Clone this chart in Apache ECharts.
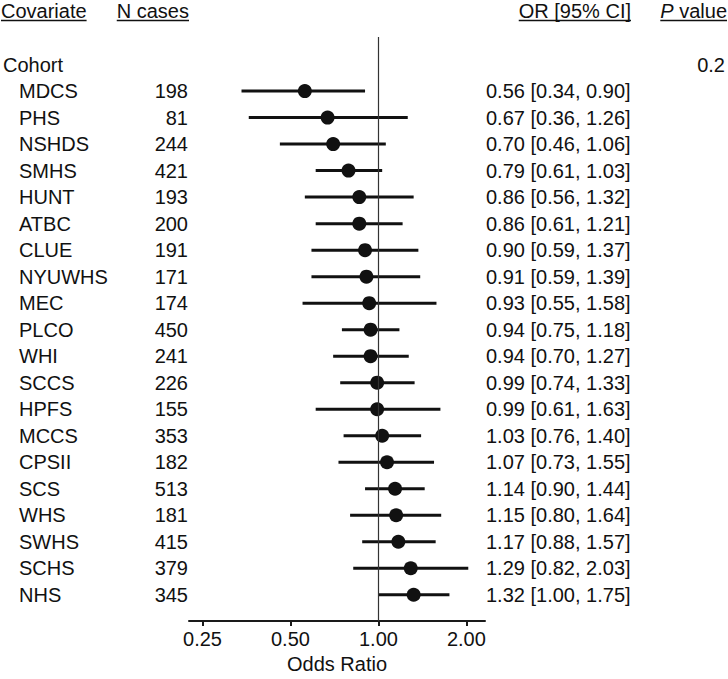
<!DOCTYPE html>
<html>
<head>
<meta charset="utf-8">
<script src="https://cdn.jsdelivr.net/npm/echarts@6/dist/echarts.min.js"></script>
<style>html,body{margin:0;padding:0;background:#fff}#c{width:728px;height:679px}</style>
</head>
<body>
<div id="c"></div>
<script>
const groupLabel = 'Cohort';
const groupP = '0.2';
const cohorts = ['MDCS','PHS','NSHDS','SMHS','HUNT','ATBC','CLUE','NYUWHS','MEC','PLCO','WHI','SCCS','HPFS','MCCS','CPSII','SCS','WHS','SWHS','SCHS','NHS'];
const nCases = [198,81,244,421,193,200,191,171,174,450,241,226,155,353,182,513,181,415,379,345];
const orVal = [0.56,0.67,0.70,0.79,0.86,0.86,0.90,0.91,0.93,0.94,0.94,0.99,0.99,1.03,1.07,1.14,1.15,1.17,1.29,1.32];
const ciLow = [0.34,0.36,0.46,0.61,0.56,0.61,0.59,0.59,0.55,0.75,0.70,0.74,0.61,0.76,0.73,0.90,0.80,0.88,0.82,1.00];
const ciHigh = [0.90,1.26,1.06,1.03,1.32,1.21,1.37,1.39,1.58,1.18,1.27,1.33,1.63,1.40,1.55,1.44,1.64,1.57,2.03,1.75];
const xTicks = [0.25,0.5,1,2];
const headers = ['Covariate','N cases','OR [95% CI]','P value'];

const FONT = 'Liberation Sans';
const FS = 20;
const INK = '#111';

const rowIdx = cohorts.map((_, i) => i + 1);
const yMin = -1.04, yMax = 20.99;

function labelAxis(values, fmt, position, align, margin) {
  return {
    type: 'value', inverse: true, min: yMin, max: yMax, position: position, offset: 0,
    axisLine: {show: false}, axisTick: {show: false}, splitLine: {show: false},
    axisLabel: {customValues: values, formatter: fmt, align: align, margin: margin,
      fontSize: FS, color: INK, fontFamily: FONT}
  };
}

const chart = echarts.init(document.getElementById('c'), null, {renderer: 'svg'});

const cv = document.createElement('canvas').getContext('2d');
function tw(t, italic) { cv.font = (italic ? 'italic ' : '') + FS + 'px "' + FONT + '"'; return cv.measureText(t).width; }

const hy = 10.5, uy = 20.5;
const gfx = [];
function header(text, x, align) {
  const w = tw(text);
  const x0 = align === 'left' ? x : x - w;
  gfx.push({type: 'text', x: x, y: hy, style: {text: text, fill: INK, font: FS + 'px "' + FONT + '"', textAlign: align, textVerticalAlign: 'middle'}});
  gfx.push({type: 'line', shape: {x1: x0, y1: uy, x2: x0 + w, y2: uy}, style: {stroke: INK, lineWidth: 1.6}});
}
header(headers[0], 1, 'left');
header(headers[1], 189, 'right');
header(headers[2], 631, 'right');
(function () {
  const parts = headers[3].split(' ');
  const rest = ' ' + parts.slice(1).join(' ');
  const wP = tw(parts[0], true), wR = tw(rest);
  const right = 727, x0 = right - wP - wR;
  gfx.push({type: 'text', x: x0, y: hy, style: {text: parts[0], fill: INK, font: 'italic ' + FS + 'px "' + FONT + '"', textAlign: 'left', textVerticalAlign: 'middle'}});
  gfx.push({type: 'text', x: x0 + wP, y: hy, style: {text: rest, fill: INK, font: FS + 'px "' + FONT + '"', textAlign: 'left', textVerticalAlign: 'middle'}});
  gfx.push({type: 'line', shape: {x1: x0, y1: uy, x2: right, y2: uy}, style: {stroke: INK, lineWidth: 1.6}});
})();

const option = {
  animation: false,
  textStyle: {fontFamily: FONT},
  graphic: gfx,
  grid: {left: 188, right: 241, top: 37, bottom: 51.5},
  xAxis: {
    type: 'log', logBase: 2, min: 0.2248, max: 2.316,
    axisLine: {show: true, onZero: false, lineStyle: {color: '#1a1a1a', width: 2}},
    axisTick: {show: true, customValues: xTicks, length: 5, lineStyle: {color: '#1a1a1a', width: 2}},
    axisLabel: {customValues: xTicks, formatter: v => Number(v).toFixed(2), margin: 8, fontSize: FS, color: INK, fontFamily: FONT},
    splitLine: {show: false}, minorTick: {show: false},
    name: 'Odds Ratio', nameLocation: 'middle', nameGap: 33,
    nameTextStyle: {fontSize: FS, color: INK, fontFamily: FONT}
  },
  yAxis: [
    {type: 'value', inverse: true, min: yMin, max: yMax, show: false},
    labelAxis([0], v => groupLabel, 'left', 'left', 186),
    labelAxis(rowIdx, v => cohorts[Math.round(v) - 1], 'left', 'left', 170),
    labelAxis(rowIdx, v => String(nCases[Math.round(v) - 1]), 'left', 'right', 1),
    labelAxis(rowIdx, v => { const i = Math.round(v) - 1; return orVal[i].toFixed(2) + ' [' + ciLow[i].toFixed(2) + ', ' + ciHigh[i].toFixed(2) + ']'; }, 'right', 'left', 1),
    labelAxis([0], v => groupP, 'right', 'right', 240)
  ],
  series: [
    {
      type: 'custom', yAxisIndex: 0, z: 2,
      data: rowIdx.map((r, i) => [ciLow[i], ciHigh[i], r]),
      encode: {x: [0, 1], y: 2},
      renderItem: function (params, api) {
        const a = api.coord([api.value(0), api.value(2)]);
        const b = api.coord([api.value(1), api.value(2)]);
        return {type: 'line', shape: {x1: a[0], y1: a[1], x2: b[0], y2: b[1]}, style: {stroke: INK, lineWidth: 3}};
      }
    },
    {
      type: 'scatter', yAxisIndex: 0, z: 3, symbol: 'circle', symbolSize: 14,
      itemStyle: {color: INK, opacity: 1},
      data: rowIdx.map((r, i) => [orVal[i], r]),
      markLine: {silent: true, symbol: 'none', label: {show: false}, lineStyle: {color: '#333', width: 1.2, type: 'solid', opacity: 1}, data: [{xAxis: 1}]}
    }
  ]
};
chart.setOption(option);
</script>
</body>
</html>
